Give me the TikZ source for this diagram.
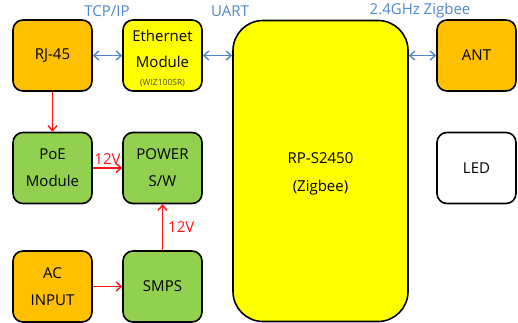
\documentclass[tikz,border=0pt]{standalone}
\usepackage{fontspec}
\setmainfont{Open Sans}
\usetikzlibrary{arrows.meta}
\definecolor{borange}{RGB}{255,192,0}
\definecolor{byellow}{RGB}{255,255,0}
\definecolor{bgreen}{RGB}{146,208,80}
\definecolor{lblue}{RGB}{80,135,200}
\definecolor{lred}{RGB}{255,20,20}
\begin{document}
\begin{tikzpicture}[x=1pt,y=-1pt,
  blk/.style={draw=black,line width=1.6pt,rounded corners=10pt,minimum width=79pt,minimum height=71pt,inner sep=0pt,align=center,font=\fontsize{15}{27}\selectfont},
  lab/.style={font=\fontsize{15}{17}\selectfont,inner sep=0pt},
  barrow/.style={draw=lblue,line width=1.4pt,{Straight Barb[length=5pt,width=9pt]}-{Straight Barb[length=5pt,width=9pt]}},
  rarrow/.style={draw=lred,line width=1.4pt,-{Straight Barb[length=5pt,width=9pt]}}]
\useasboundingbox (0,0) rectangle (518,323);
\node[blk,fill=borange] (rj) at (52.5,55.5) {RJ-45};
\node[blk,fill=byellow] (eth) at (162.5,55.5) {};
\node[lab] (ethA) at (162.5,36) {Ethernet};
\node[lab] (ethB) at (162.5,62) {Module};
\node[font=\fontsize{8.5}{9}\selectfont,text=black!70,inner sep=0pt] (ethC) at (162.5,83) {(WIZ100SR)};
\node[blk,fill=borange] (ant) at (476.5,55.5) {ANT};
\node[blk,fill=white] (led) at (476.5,168) {LED};
\node[draw=black,line width=1.6pt,rounded corners=30pt,fill=byellow,minimum width=175pt,minimum height=301pt,inner sep=0pt] (rp) at (320.5,171) {};
\node[lab] (rpA) at (320.5,158) {RP-S2450};
\node[lab] (rpB) at (320.5,188) {(Zigbee)};
\node[blk,fill=bgreen] (poe) at (52.5,168) {PoE\\Module};
\node[blk,fill=bgreen] (pw) at (162.5,168) {POWER\\S/W};
\node[blk,fill=borange] (ac) at (52.5,286.5) {AC\\INPUT};
\node[blk,fill=bgreen] (smps) at (162.5,286.5) {SMPS};
\node[lab,text=lblue] (tcp) at (107,11) {TCP/IP};
\node[lab,text=lblue] (uart) at (230,11) {UART};
\node[lab,text=lblue] (zig) at (420,11) {2.4GHz Zigbee};
\draw[barrow] (rj.east) -- (eth.west);
\draw[barrow] (eth.east) -- (eth.east -| rp.west);
\draw[barrow] (ant.west -| rp.east) -- (ant.west);
\draw[rarrow] (rj.south) -- (poe.north);
\draw[rarrow] (poe.east) -- (pw.west) node[midway,above=3pt,lab,text=lred] (v1) {12V};
\draw[rarrow] (smps.north) -- (pw.south) node[midway,right=5pt,lab,text=lred] (v2) {12V};
\draw[rarrow] (ac.east) -- (smps.west);
\end{tikzpicture}
\end{document}
